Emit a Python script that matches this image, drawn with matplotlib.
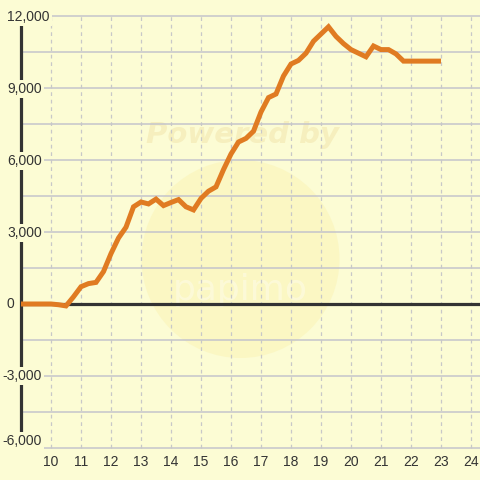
import matplotlib
matplotlib.use("Agg")
import matplotlib.pyplot as plt
from matplotlib.patches import Ellipse

# ---- data ----
hours = [9.0, 9.25, 9.5, 9.75, 10.0, 10.25, 10.5, 10.75, 11.0, 11.25, 11.5, 11.75,
         12.0, 12.25, 12.5, 12.75, 13.0, 13.25, 13.5, 13.75, 14.0, 14.25, 14.5, 14.75,
         15.0, 15.25, 15.5, 15.75, 16.0, 16.25, 16.5, 16.75, 17.0, 17.25, 17.5, 17.75,
         18.0, 18.25, 18.5, 18.75, 19.0, 19.25, 19.5, 19.75, 20.0, 20.25, 20.5, 20.75,
         21.0, 21.25, 21.5, 21.75, 22.0, 22.25, 22.5, 22.75, 23.0]
balance = [0, 0, 0, 0, 0, -30, -80, 300, 720, 850, 900, 1350,
           2100, 2750, 3200, 4050, 4250, 4170, 4370, 4100, 4230, 4350, 4050, 3920,
           4400, 4700, 4880, 5600, 6250, 6750, 6900, 7200, 8000, 8600, 8750, 9500,
           10000, 10150, 10450, 10950, 11250, 11550, 11150, 10850, 10600, 10450, 10300, 10750,
           10600, 10600, 10420, 10120, 10120, 10120, 10120, 10120, 10120]
x_ticks = list(range(10, 25))
y_ticks = [12000, 9000, 6000, 3000, 0, -3000, -6000]
y_tick_labels = ["12,000", "9,000", "6,000", "3,000", "0", "-3,000", "-6,000"]
y_grid = list(range(-6000, 12001, 1500))

BG = "#fcfcd4"
px_x = 1 / 30.0          # data units per pixel (x)
px_y = 3000 / 72.0       # data units per pixel (y)

fig = plt.figure(figsize=(4.8, 4.8), dpi=100, facecolor=BG)
ax = fig.add_axes([0, 0, 1, 1])
ax.set_facecolor(BG)
x0 = 10 - 51 * px_x
x1 = 10 + (480 - 51) * px_x
y1 = 0 + 304 * px_y
y0 = 0 - (480 - 304) * px_y
ax.set_xlim(x0, x1)
ax.set_ylim(y0, y1)
for s in ax.spines.values():
    s.set_visible(False)
ax.set_xticks([]); ax.set_yticks([])

# watermark
cx = 10 + (240.5 - 51) * px_x
cy = (304 - 259) * px_y
ax.add_patch(Ellipse((cx, cy), 2 * 99 * px_x, 2 * 99 * px_y, facecolor="#fbf4b8",
                     edgecolor="none", alpha=0.6, zorder=0))
ax.text(10 + (242 - 51) * px_x, (304 - 135) * px_y, "Powered by", fontsize=21,
        fontweight="bold", fontstyle="italic", color="#f6efbe", ha="center", va="center",
        family="DejaVu Sans", zorder=0.5)
ax.text(cx, (304 - 290) * px_y, "papimo", fontsize=26, color="white", alpha=0.35,
        ha="center", va="center", family="DejaVu Sans", zorder=0.5)

# grid
xs_spine = 9.0
for yv in y_grid:
    ax.plot([xs_spine, x1], [yv, yv], color="#c4c4cc", lw=1.1, zorder=1,
            solid_capstyle="butt")
for xv in x_ticks:
    ax.plot([xv, xv], [-6000, 12000], color="#c8c8c8", lw=0.9, zorder=1,
            linestyle=(0, (3, 3)))

# zero line and y spine
ax.plot([xs_spine, x1], [0, 0], color="#333333", lw=2.3, zorder=2, solid_capstyle="butt")
ax.plot([xs_spine, xs_spine], [-6000, 12000], color="#333333", lw=2.3, zorder=2,
        solid_capstyle="butt")

# data line
ax.plot(hours, balance, color="#e07b22", lw=3.6, zorder=3, solid_joinstyle="miter",
        solid_capstyle="butt")

# y labels
for yv, lab in zip(y_ticks, y_tick_labels):
    xl = x0 + (7 if yv >= 0 else 2.5) * px_x
    yl = yv + (7 * px_y if yv == -6000 else (-1 * px_y if yv > 0 else 0))
    ax.text(xl, yl, lab, fontsize=10, color="#333333", ha="left", va="center",
            family="Liberation Sans", zorder=4,
            bbox=dict(facecolor=BG, edgecolor="none", pad=1.5))

# x labels
for xv in x_ticks:
    ax.text(xv, (304 - 462) * px_y, str(xv), fontsize=10, color="#333333",
            ha="center", va="center", family="Liberation Sans", zorder=4)

fig.savefig("out.png", dpi=100, facecolor=BG)
